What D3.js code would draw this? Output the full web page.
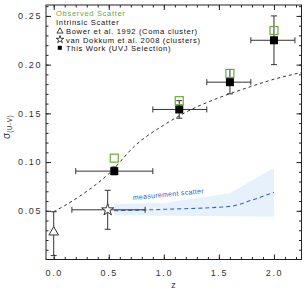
<!DOCTYPE html>
<html>
<head>
<meta charset="utf-8">
<script src="https://cdn.jsdelivr.net/npm/d3@7"></script>
<style>
body { margin: 0; background: #fff; }
text { font-family: "Liberation Sans", sans-serif; }
</style>
</head>
<body>
<script>
// this work (UVJ selection)
var workZ = [0.55, 1.14, 1.60, 2.00];
var workSigma = [0.0907, 0.154, 0.182, 0.225];
var workZLo = [0.20, 0.90, 1.39, 1.79];
var workZHi = [0.90, 1.39, 1.79, 2.19];
var workSigLo = [0.087, 0.145, 0.170, 0.200];
var workSigHi = [0.095, 0.163, 0.195, 0.250];
var observedSigma = [0.104, 0.163, 0.191, 0.235];

// literature points
var bowerZ = [0.0], bowerSigma = [0.028], bowerLo = [0.004], bowerHi = [0.049];
var vdkZ = [0.49], vdkSigma = [0.051], vdkZLo = [0.165], vdkZHi = [0.83],
    vdkLo = [0.031], vdkHi = [0.071];

// intrinsic scatter model curve
var modelZ = [0, 0.25, 0.5, 0.75, 1.0, 1.25, 1.5, 1.75, 2.0, 2.25];
var modelSigma = [0.049, 0.066, 0.088, 0.118, 0.138, 0.154, 0.166, 0.176, 0.185, 0.192];

// measurement scatter band
var measZ = [0.55, 1.0, 1.6, 1.8, 2.0];
var measMid = [0.050, 0.0515, 0.0545, 0.061, 0.069];
var measTop = [0.057, 0.058, 0.068, 0.081, 0.094];
var measBot = [0.0455, 0.045, 0.0445, 0.0442, 0.044];

var xMajor = [0, 0.5, 1.0, 1.5, 2.0];
var yMajor = [0.05, 0.10, 0.15, 0.20, 0.25];

var width = 308, height = 292;
var green = '#6aaa3a', blue = '#3465c0', ink = '#222';

var svg = d3.select('body').append('svg')
    .attr('width', width)
    .attr('height', height);

var x = d3.scaleLinear().domain([-0.07, 2.25]).range([46, 301.5]);
var y = d3.scaleLinear().domain([0, 0.2612]).range([259.5, 5]);

var xMinor = d3.range(0, 23).map(function(i){ return i / 10; }).filter(function(v){ return v < 2.25; });
var yMinor = d3.range(1, 27).map(function(i){ return i / 100; });

// band + measurement line
svg.append('path')
    .datum(measZ)
    .attr('fill', '#e7f1fc')
    .attr('d', d3.area()
        .x(function(d){ return x(d); })
        .y0(function(d, i){ return y(measBot[i]); })
        .y1(function(d, i){ return y(measTop[i]); }));

svg.append('path')
    .datum(measZ)
    .attr('fill', 'none')
    .attr('stroke', blue)
    .attr('stroke-width', 1.1)
    .attr('stroke-dasharray', '4,3')
    .attr('d', d3.line()
        .x(function(d){ return x(d); })
        .y(function(d, i){ return y(measMid[i]); })
        .curve(d3.curveMonotoneX));

svg.append('text')
    .attr('transform', 'translate(' + 133 + ',' + 200 + ') rotate(-5.5)')
    .attr('font-size', '7px')
    .attr('letter-spacing', '0.3px')
    .attr('fill', blue)
    .text('measurement scatter');

// model curve
svg.append('path')
    .datum(modelZ)
    .attr('fill', 'none')
    .attr('stroke', '#333')
    .attr('stroke-width', 1)
    .attr('stroke-dasharray', '3,3')
    .attr('d', d3.line()
        .x(function(d){ return x(d); })
        .y(function(d, i){ return y(modelSigma[i]); })
        .curve(d3.curveMonotoneX));

// axes
function axis(gen, tx, ty, vals, size, fmt, pad) {
    var g = svg.append('g')
        .attr('transform', 'translate(' + tx + ',' + ty + ')')
        .call(gen.tickValues(vals).tickSizeInner(size).tickSizeOuter(0)
            .tickPadding(pad || 3).tickFormat(fmt || ''));
    g.select('.domain').remove();
    g.selectAll('line').attr('stroke', ink);
    g.selectAll('text')
        .attr('font-family', '"DejaVu Sans", sans-serif')
        .attr('font-size', '9px')
        .attr('letter-spacing', '1.6px')
        .attr('fill', '#333');
    return g;
}
axis(d3.axisBottom(x), 0, 259.5, xMajor, -5, d3.format('.1f'), 10.5);
axis(d3.axisBottom(x), 0, 259.5, xMinor, -2.5);
axis(d3.axisTop(x), 0, 5, xMajor, -5);
axis(d3.axisTop(x), 0, 5, xMinor, -2.5);
axis(d3.axisLeft(y), 46, 0, yMajor, -5, d3.format('.2f'), 4);
axis(d3.axisLeft(y), 46, 0, yMinor, -2.5);
axis(d3.axisRight(y), 301.5, 0, yMajor, -5);
axis(d3.axisRight(y), 301.5, 0, yMinor, -2.5);

svg.append('rect')
    .attr('x', 46).attr('y', 5)
    .attr('width', 255.5).attr('height', 254.5)
    .attr('fill', 'none')
    .attr('stroke', ink)
    .attr('stroke-width', 1);

svg.append('text')
    .attr('x', 173.5).attr('y', 288)
    .attr('text-anchor', 'middle')
    .attr('font-family', '"DejaVu Sans", sans-serif')
    .attr('font-size', '9px')
    .attr('fill', '#333')
    .text('z');

var yl = svg.append('text')
    .attr('transform', 'translate(10,139) rotate(-90)')
    .attr('font-family', '"DejaVu Sans", sans-serif')
    .attr('fill', '#333');
yl.append('tspan').attr('font-size', '10px').text('σ');
yl.append('tspan').attr('font-size', '6.5px').attr('dy', 2).attr('letter-spacing', '0.5px').text('(U-V)');

// error bars
function errY(cx, lo, hi) {
    svg.append('line').attr('x1', x(cx)).attr('x2', x(cx)).attr('y1', y(lo)).attr('y2', y(hi))
        .attr('stroke', '#333');
    [lo, hi].forEach(function(v){
        svg.append('line').attr('x1', x(cx) - 3).attr('x2', x(cx) + 3).attr('y1', y(v)).attr('y2', y(v))
            .attr('stroke', '#333');
    });
}
function errX(cy, lo, hi) {
    svg.append('line').attr('x1', x(lo)).attr('x2', x(hi)).attr('y1', y(cy)).attr('y2', y(cy))
        .attr('stroke', '#333');
    [lo, hi].forEach(function(v){
        svg.append('line').attr('x1', x(v)).attr('x2', x(v)).attr('y1', y(cy) - 3).attr('y2', y(cy) + 3)
            .attr('stroke', '#333');
    });
}

workZ.forEach(function(z, i){
    errX(workSigma[i], workZLo[i], workZHi[i]);
    errY(z, workSigLo[i], workSigHi[i]);
});
bowerZ.forEach(function(z, i){ errY(z, bowerLo[i], bowerHi[i]); });
vdkZ.forEach(function(z, i){
    errX(vdkSigma[i], vdkZLo[i], vdkZHi[i]);
    errY(z, vdkLo[i], vdkHi[i]);
});

// observed (green open squares)
svg.selectAll('.obs').data(workZ).enter().append('rect')
    .attr('x', function(d){ return x(d) - 4; })
    .attr('y', function(d, i){ return y(observedSigma[i]) - 4; })
    .attr('width', 8).attr('height', 8)
    .attr('fill', 'none')
    .attr('stroke', green)
    .attr('stroke-width', 1.2);

// intrinsic (black squares)
svg.selectAll('.work').data(workZ).enter().append('rect')
    .attr('x', function(d){ return x(d) - 4; })
    .attr('y', function(d, i){ return y(workSigma[i]) - 4; })
    .attr('width', 8).attr('height', 8)
    .attr('fill', '#000');

svg.selectAll('.bower').data(bowerZ).enter().append('path')
    .attr('transform', function(d, i){ return 'translate(' + x(d) + ',' + y(bowerSigma[i]) + ')'; })
    .attr('d', d3.symbol(d3.symbolTriangle, 40)())
    .attr('fill', '#fff')
    .attr('stroke', '#333');

svg.selectAll('.vdk').data(vdkZ).enter().append('path')
    .attr('transform', function(d, i){ return 'translate(' + x(d) + ',' + y(vdkSigma[i]) + ')'; })
    .attr('d', d3.symbol(d3.symbolStar, 45)())
    .attr('fill', '#fff')
    .attr('stroke', '#333');

// legend
var leg = svg.append('g').attr('font-size', '7.6px').attr('letter-spacing', '0.65px');
leg.append('text').attr('x', 56).attr('y', 16).attr('fill', green).text('Observed Scatter');
leg.append('text').attr('x', 56).attr('y', 25).attr('fill', '#111').text('Intrinsic Scatter');
leg.append('path').attr('transform', 'translate(60,31.3)')
    .attr('d', d3.symbol(d3.symbolTriangle, 16)()).attr('fill', 'none').attr('stroke', '#111').attr('stroke-width', 0.8);
leg.append('text').attr('x', 66).attr('y', 34).attr('fill', '#111').text('Bower et al. 1992 (Coma cluster)');
leg.append('path').attr('transform', 'translate(60,39.5)')
    .attr('d', d3.symbol(d3.symbolStar, 18)()).attr('fill', 'none').attr('stroke', '#111').attr('stroke-width', 0.8);
leg.append('text').attr('x', 66).attr('y', 42.5).attr('fill', '#111').text('van Dokkum et al. 2008 (clusters)');
leg.append('rect').attr('x', 57.8).attr('y', 45.8).attr('width', 4).attr('height', 4).attr('fill', '#000');
leg.append('text').attr('x', 66).attr('y', 51).attr('fill', '#111').text('This Work (UVJ Selection)');
</script>
</body>
</html>
